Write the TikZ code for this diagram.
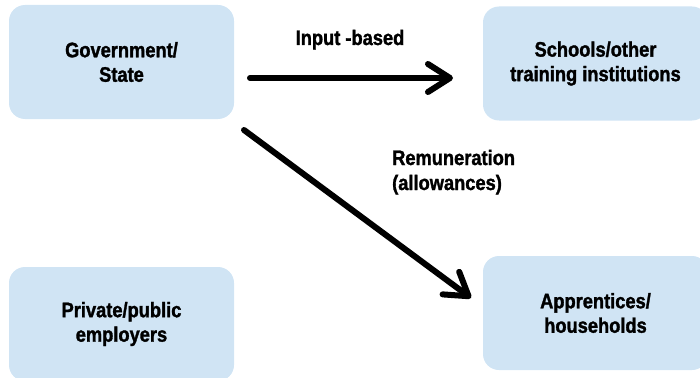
\documentclass[tikz,border=0pt]{standalone}
\usepackage{fontspec}
\setmainfont{Liberation Sans}[FakeStretch=0.87, FakeBold=1.5]
\usetikzlibrary{arrows.meta}
\definecolor{boxblue}{RGB}{208,228,244}
\begin{document}
\begin{tikzpicture}[x=1pt,y=-1pt,
  actor/.style={rectangle, rounded corners=16pt, fill=boxblue, draw=none,
    minimum width=225pt, minimum height=114pt, inner sep=0pt,
    align=center, font=\fontsize{21}{24.5}\selectfont\bfseries},
  lbl/.style={inner sep=0pt, align=left, font=\fontsize{21}{25}\selectfont\bfseries},
  flow/.style={line width=6pt, line cap=round,
    -{Straight Barb[length=22pt, width=28pt, round]}}]
\useasboundingbox (0,0) rectangle (700,377);
\clip (0,0) rectangle (700,377);

% actors
\node[actor] (gov) at (121.5,62) {Government/\\State};
\node[actor] (school) at (595.5,63.5) {Schools/other\\training institutions};
\node[actor] (employer) at (121.5,324) {Private/public\\employers};
\node[actor] (appr) at (595.5,313) {Apprentices/\\households};

% flow end points
\coordinate (f1s) at (250,78);
\coordinate (f1e) at (453,78);
\coordinate (f2s) at (244,130);
\coordinate (f2e) at (471,298);

\draw[flow] (f1s) -- (f1e);
\draw[flow] (f2s) -- (f2e);

% flow labels
\node[lbl, anchor=base] (l1) at (350,45) {Input -based};
\node[lbl, anchor=base west] (l2) at (392,190) {Remuneration\\(allowances)};
\end{tikzpicture}
\end{document}
